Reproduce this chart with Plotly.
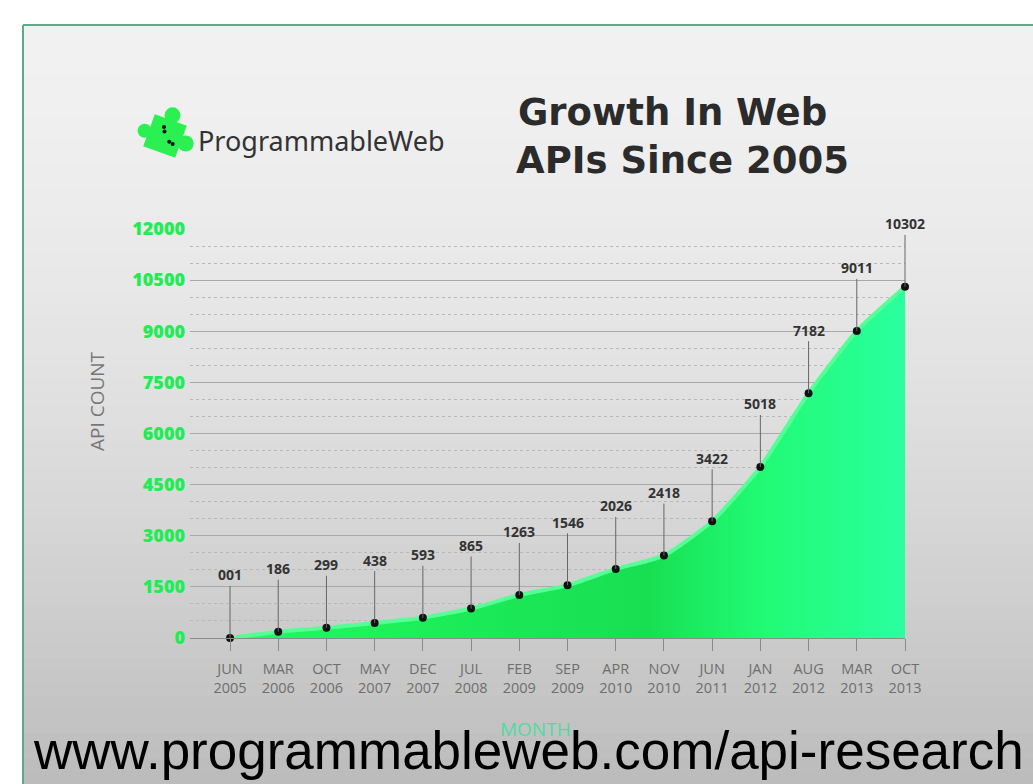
import math
import plotly.graph_objects as go

# ---------------- data ----------------
months = ["JUN", "MAR", "OCT", "MAY", "DEC", "JUL", "FEB", "SEP", "APR", "NOV",
          "JUN", "JAN", "AUG", "MAR", "OCT"]
years = ["2005", "2006", "2006", "2007", "2007", "2008", "2009", "2009", "2010",
         "2010", "2011", "2012", "2012", "2013", "2013"]
api_counts = [1, 186, 299, 438, 593, 865, 1263, 1546, 2026, 2418, 3422, 5018,
              7182, 9011, 10302]
y_ticks = [0, 1500, 3000, 4500, 6000, 7500, 9000, 10500, 12000]
y_tick_labels = ["0", "1500", "3000", "4500", "6000", "7500", "9000", "10500", "12000"]

W, H = 1033, 784


def px(x):
    return x / W


def py(y):
    return 1 - y / H


x_idx = list(range(len(api_counts)))
tick_text = [f"{m}<br>{y}" for m, y in zip(months, years)]

fig = go.Figure()

fig.add_trace(go.Scatter(
    x=x_idx, y=api_counts,
    mode="lines+markers",
    line=dict(color="#55ff95", width=4, shape="spline", smoothing=0.5),
    fill="tozeroy",
    fillgradient=dict(
        type="horizontal",
        colorscale=[[0, "#22fb5e"], [0.45, "#1ae656"], [0.62, "#18df52"],
                    [0.78, "#20fa72"], [1, "#2affa0"]],
    ),
    marker=dict(color="#111111", size=8),
    cliponaxis=False,
    hoverinfo="skip",
    showlegend=False,
))

shapes = []
# background panel gradient
N = 60
top, bottom = 25, H
for i in range(N):
    t = i / (N - 1)
    g = int(round(241 - 53 * (t ** 1.6)))
    y0 = top + i * (bottom - top) / N
    y1 = top + (i + 1) * (bottom - top) / N + 1
    shapes.append(dict(type="rect", xref="paper", yref="paper",
                       x0=px(23), x1=1, y0=py(min(y1, H)), y1=py(y0),
                       fillcolor=f"rgb({g},{g},{g})", line=dict(width=0),
                       layer="below"))
# panel border (top and left)
shapes.append(dict(type="line", xref="paper", yref="paper", x0=px(23), x1=1,
                   y0=py(25), y1=py(25), line=dict(color="#5fa889", width=2),
                   layer="below"))
shapes.append(dict(type="line", xref="paper", yref="paper", x0=px(23), x1=px(23),
                   y0=py(25), y1=0, line=dict(color="#5fa889", width=2),
                   layer="below"))

# puzzle-piece logo
cx, cy, s, ang = 165, 136, 17, math.radians(20)


def rot(dx, dy):
    return (cx + dx * math.cos(ang) - dy * math.sin(ang),
            cy + dx * math.sin(ang) + dy * math.cos(ang))


corners = [rot(-s, -s), rot(s, -s), rot(s, s), rot(-s, s)]
path = "M " + " L ".join(f"{px(a):.5f},{py(b):.5f}" for a, b in corners) + " Z"
shapes.append(dict(type="path", xref="paper", yref="paper", path=path,
                   fillcolor="#2bf052", line=dict(width=0)))
for dx, dy, r in [(0, -s - 5, 8), (s + 5, 0, 8), (-s - 4, 2, 7)]:
    kx, ky = rot(dx, dy)
    shapes.append(dict(type="circle", xref="paper", yref="paper",
                       x0=px(kx - r), x1=px(kx + r), y0=py(ky + r), y1=py(ky - r),
                       fillcolor="#2bf052", line=dict(width=0)))
for dx, dy in [(-4, -8), (-2, -4), (6, 4), (10, 5)]:
    kx, ky = rot(dx, dy)
    shapes.append(dict(type="circle", xref="paper", yref="paper",
                       x0=px(kx - 2), x1=px(kx + 2), y0=py(ky + 2), y1=py(ky - 2),
                       fillcolor="#111111", line=dict(width=0)))

annotations = []
# data labels with leader lines
for i, v in enumerate(api_counts):
    annotations.append(dict(
        x=i, y=v, xref="x", yref="y", text=f"<b>{v:03d}</b>",
        showarrow=True, arrowhead=0, arrowwidth=1, arrowcolor="#666666",
        ax=0, ay=-63, standoff=0,
        font=dict(family="Open Sans", size=14, color="#333333"),
    ))

# title (two lines)
title_font = dict(family="DejaVu Sans", size=37, color="#2b2b2b", weight="bold")
annotations.append(dict(x=px(517), y=py(113), xref="paper", yref="paper",
                        text="Growth In Web", showarrow=False, font=title_font,
                        xanchor="left", yanchor="middle", borderpad=0))
annotations.append(dict(x=px(515), y=py(161), xref="paper", yref="paper",
                        text="APIs Since 2005", showarrow=False, font=title_font,
                        xanchor="left", yanchor="middle", borderpad=0))
# logo text
annotations.append(dict(x=px(196), y=py(140), xref="paper", yref="paper",
                        text="ProgrammableWeb", showarrow=False,
                        font=dict(family="Noto Sans", size=27, color="#333333"),
                        xanchor="left", yanchor="middle"))
# axis titles
annotations.append(dict(x=px(97), y=py(401), xref="paper", yref="paper",
                        text="API COUNT", showarrow=False, textangle=-90,
                        font=dict(family="Open Sans", size=19, color="#777777"),
                        xanchor="center", yanchor="middle"))
annotations.append(dict(x=px(535), y=py(729), xref="paper", yref="paper",
                        text="MONTH", showarrow=False,
                        font=dict(family="Open Sans", size=19, color="#4fdca0"),
                        xanchor="center", yanchor="middle"))
# footer url
annotations.append(dict(x=px(528), y=py(750), xref="paper", yref="paper",
                        text="www.programmableweb.com/api-research", showarrow=False,
                        font=dict(family="Liberation Sans", size=53, color="#000000"),
                        xanchor="center", yanchor="middle"))

fig.update_layout(
    width=W, height=H, autosize=False,
    margin=dict(l=0, r=0, t=0, b=0, pad=0, autoexpand=False),
    paper_bgcolor="#ffffff",
    plot_bgcolor="rgba(0,0,0,0)",
    shapes=shapes,
    annotations=annotations,
    xaxis=dict(
        domain=[px(190), px(905)],
        range=[-0.83, 14],
        automargin=False,
        tickmode="array", tickvals=x_idx, ticktext=tick_text,
        ticks="outside", ticklen=12, tickcolor="#8a8a8a", tickwidth=1,
        ticklabelstandoff=6,
        showgrid=False, zeroline=False,
        showline=True, linecolor="#8a8a8a", linewidth=1,
        tickfont=dict(family="Open Sans", size=14.5, color="#6e6e6e"),
    ),
    yaxis=dict(
        domain=[py(638), py(229)],
        range=[0, 12000],
        automargin=False,
        tickmode="array", tickvals=y_ticks, ticktext=y_tick_labels,
        showgrid=True, gridcolor="#a9a9a9", gridwidth=1,
        zeroline=False, showline=False,
        minor=dict(dtick=500, showgrid=True, gridcolor="#b8b8b8",
                   griddash="dot", gridwidth=1),
        ticks="", ticklabelstandoff=4,
        tickfont=dict(family="Open Sans", size=18, color="#22ec55", weight=800),
    ),
)

fig.write_html("out.html")
